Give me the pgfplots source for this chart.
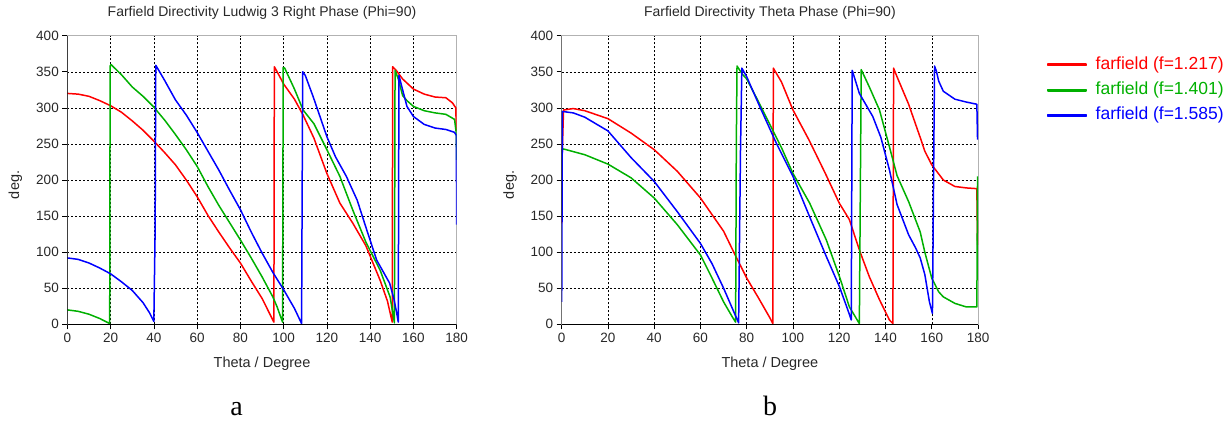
\documentclass[border=0pt]{standalone}
\usepackage{fontspec}
\setmainfont{Liberation Sans}
\newfontfamily\capfont{Liberation Serif}
\usepackage{pgfplots}
\pgfplotsset{compat=1.18}

\definecolor{cstred}{RGB}{255,0,0}
\definecolor{cstgreen}{RGB}{0,176,0}
\definecolor{cstblue}{RGB}{0,0,255}
\definecolor{txt}{RGB}{40,40,40}

\pgfplotsset{
  cstaxis/.style={
    scale only axis, height=288.6pt,
    xmin=0, xmax=180, ymin=0, ymax=400,
    xtick={0,20,...,180}, ytick={0,50,...,400},
    grid=major,
    major grid style={black, line width=0.5pt, dash pattern=on 2pt off 2pt},
    axis line style={gray!60, line width=0.8pt},
    tick pos=left, tick align=outside, major tick length=5pt,
    tick style={black, line width=0.6pt},
    tick label style={font=\fontsize{13.5}{15}\selectfont, text=txt},
    /pgf/number format/assume math mode=true,
    xlabel={Theta / Degree}, ylabel={deg.},
    xlabel style={font=\fontsize{14.5}{16}\selectfont, text=txt,
      at={(axis description cs:0.5,0)}, anchor=center, yshift=-39pt},
    ylabel style={font=\fontsize{14.5}{16}\selectfont, text=txt, anchor=center},
    title style={font=\fontsize{14}{16}\selectfont, text=txt,
      at={(axis description cs:0.5,1)}, anchor=center, yshift=17pt},
    every axis plot/.append style={line width=1.5pt, line join=round},
  }
}

\begin{document}
\begin{tikzpicture}
\useasboundingbox (0,0) rectangle (1230pt,420pt);

% (a) Ludwig 3 right phase
\begin{axis}[cstaxis, at={(67.3pt,95.7pt)}, anchor=south west, width=389.4pt,
  ylabel style={at={([xshift=-52pt]axis description cs:0,0.483)}},
  title={Farfield Directivity Ludwig 3 Right Phase (Phi=90)}]
\addplot[cstred] coordinates {
(0,320)(5,319)(10,316)(15,310)(20,303)(25,294)(30,282)(35,269)(40,254)(45,238)
(50,221)(55,200)(60,177)(65,151)(70,128)(75,106)(80,85)(85,60)(90,36)(95.5,3)
(95.7,357)(97,350)(100,333)(105,312)(109,290)(114,258)(120,209)(126,168)(132,140)
(138,109)(144.6,61)(148,32)(150.2,3)(150.4,357)(152,352)(155,340)(160,326)
(165,319)(170,315)(175,314)(178,307)(179.6,300)(179.8,268)
};
\addplot[cstgreen] coordinates {
(0,20)(5,18)(10,14)(15,8)(19.6,1)(19.8,358)(20.2,360)(25,346)(30,329)(35,316)
(40,301)(45,283)(50,263)(55,242)(60,219)(65,191)(70,165)(75,141)(80,117)(85,92)
(90,66)(95,38)(97,24)(99.5,3)(99.8,356)(100.5,355)(105,326)(109,297)(114,278)
(120,242)(126,205)(132,158)(138,114)(144.6,75)(149.2,38)(150.5,15)(151.2,2)
(151.5,352)(153,340)(155,317)(157,310)(160,302)(165,296)(170,293)(175,291)
(179,284)(179.8,265)(180,228)
};
\addplot[cstblue] coordinates {
(0,92)(5,90)(10,85)(15,78)(20,70)(25,59)(30,47)(35,30)(38,16)(40,4)(40.6,130)
(40.9,359)(45,338)(50,311)(55,290)(60,266)(65,240)(70,214)(75,186)(80,159)
(85,128)(90,99)(95,72)(100,48)(105,22)(108.3,1)(108.8,350)(110,345)(113.7,315)
(120,260)(124,232)(129,205)(134,172)(138.4,131)(143,89)(149,57)(151,35)
(152.3,15)(153,3)(153.3,345)(155,325)(157,302)(160,288)(165,277)(170,272)
(175,270)(179,266)(179.8,262)(180,138)
};
\draw[black, line width=0.8pt] (rel axis cs:0,1) -- (rel axis cs:0,0) -- (rel axis cs:1,0);
\end{axis}

% (b) Theta phase
\begin{axis}[cstaxis, at={(561.7pt,95.7pt)}, anchor=south west, width=416.3pt,
  ylabel style={at={([xshift=-51.7pt]axis description cs:0,0.483)}},
  title={Farfield Directivity Theta Phase (Phi=90)},
  legend cell align=left,
  legend image code/.code={\fill[#1] (0pt,-0.8pt) rectangle (38pt,0.8pt);
    \path (46pt,0pt);},
  legend style={at={(axis description cs:1,1)}, anchor=north west,
    xshift=66pt, yshift=-17.5pt, draw=none, fill=none,
    font=\fontsize{17.5}{20}\selectfont,
    nodes={inner sep=1pt, text height=13pt, text depth=4pt},
    row sep=6.3pt}]
\addplot[cstred] coordinates {
(0,140)(0,215)(0.8,297)(5,299)(10,296)(20,285)(30,265)(40,242)(50,212)(60,175)
(70,129)(75,96)(80,64)(85,37)(90,9)(91.3,1)(91.5,355)(95,336)(100,297)(107,255)
(114,209)(120,168)(124.4,145)(128.7,103)(133,66)(137.4,34)(141.7,6)(143.2,1)
(143.5,355)(145,343)(150,305)(155,259)(157,240)(160,221)(165,200)(170,191)
(175,189)(179.5,188)(179.8,110)
};
\addlegendentry{\textcolor{cstred}{farfield (f=1.217)}}
\addplot[cstgreen] coordinates {
(0,147)(0,242)(0.8,243)(10,235)(20,222)(30,203)(40,175)(50,138)(60,96)(65,64)
(70,31)(74,9)(75.2,3)(75.5,250)(75.8,358)(78,347)(80,340)(85,309)(90,277)(95,245)
(100,209)(107.2,168)(114.4,117)(120.1,66)(124.4,24)(128.7,1)(129.5,353)(133,329)
(137.4,297)(141.7,246)(145,206)(150,170)(155,128)(157,100)(160,64)(163,45)
(165,38)(170,29)(175,24)(179.5,24)(179.8,205)
};
\addlegendentry{\textcolor{cstgreen}{farfield (f=1.401)}}
\addplot[cstblue] coordinates {
(0,31)(0.3,295)(5,293)(10,287)(20,268)(30,231)(40,198)(50,156)(60,112)(65,84)
(70,50)(75,13)(76.5,2)(77.3,240)(77.9,355)(80,343)(85.6,302)(92.8,251)(100,205)
(107.2,149)(114.4,94)(120.1,52)(123.7,20)(125.2,6)(125.6,352)(128.7,320)
(134.5,288)(138,259)(141.7,214)(145,166)(150,124)(153,106)(155,92)(157,69)
(159,31)(160.3,15)(161.2,358)(162,351)(163,337)(165,323)(170,312)(175,308)
(179.5,305)(179.8,256)
};
\addlegendentry{\textcolor{cstblue}{farfield (f=1.585)}}
\draw[black, line width=0.8pt] (rel axis cs:0,1) -- (rel axis cs:0,0) -- (rel axis cs:1,0);
\end{axis}

\node[font=\capfont\fontsize{28}{30}\selectfont, anchor=base, inner sep=0pt] at (236.7pt,5pt) {a};
\node[font=\capfont\fontsize{28}{30}\selectfont, anchor=base, inner sep=0pt] at (770pt,5pt) {b};
\end{tikzpicture}
\end{document}
